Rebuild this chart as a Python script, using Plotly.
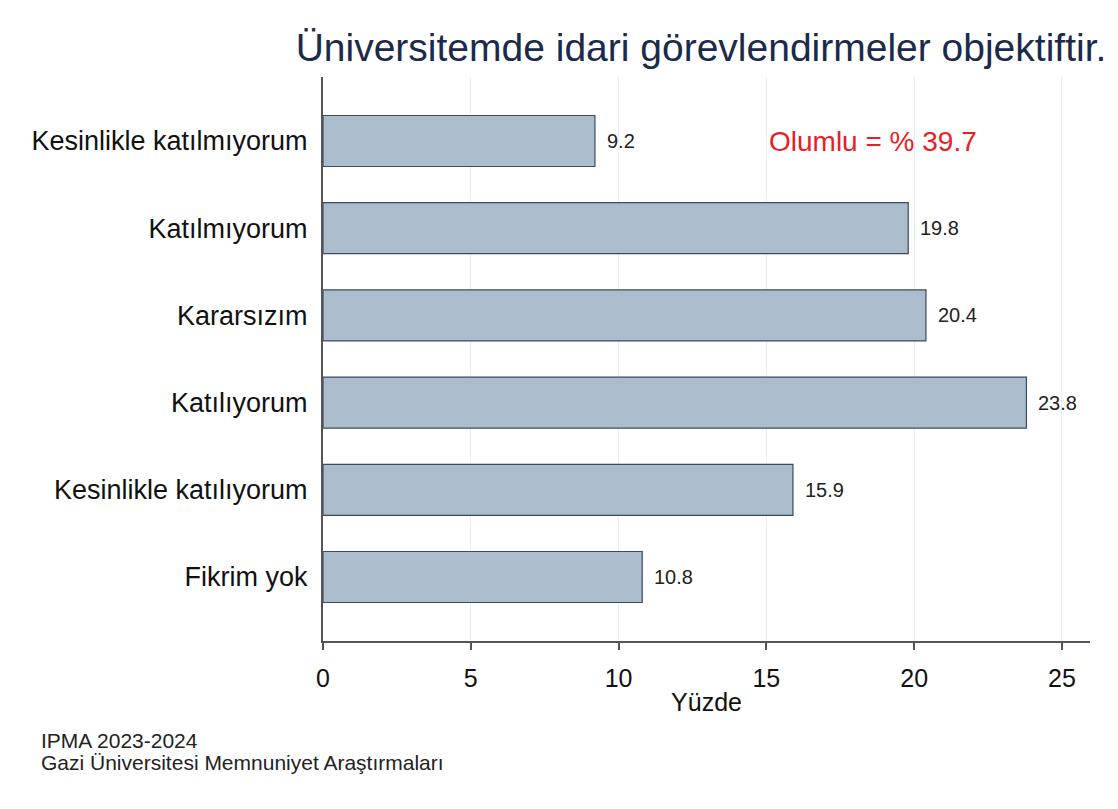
import plotly.graph_objects as go

categories = ["Kesinlikle katılmıyorum", "Katılmıyorum", "Kararsızım",
              "Katılıyorum", "Kesinlikle katılıyorum", "Fikrim yok"]
values = [9.2, 19.8, 20.4, 23.8, 15.9, 10.8]
x_ticks = [0, 5, 10, 15, 20, 25]

title_text = "Üniversitemde idari görevlendirmeler objektiftir."
note_text = "Olumlu = % 39.7"
footer_lines = ["IPMA 2023-2024", "Gazi Üniversitesi Memnuniyet Araştırmaları"]

font = "Liberation Sans, Arial, sans-serif"

W, H = 1110, 801
L, R, T, B = 315, 28, 69, 168
PW, PH = W - L - R, H - T - B

ypos = list(range(len(categories)))

fig = go.Figure()
fig.add_trace(go.Bar(
    x=values, y=ypos, orientation="h",
    width=0.585,
    marker=dict(color="#abbccd", line=dict(color="#3b4a5c", width=1.2)),
    hoverinfo="skip",
))

for v, yp in zip(values, ypos):
    fig.add_annotation(text=f"{v:.1f}", xref="x", yref="y", x=v, y=yp,
                       xanchor="left", yanchor="middle", xshift=10, showarrow=False,
                       font=dict(family=font, size=20, color="#222222"))

fig.update_layout(
    width=W, height=H,
    margin=dict(l=L, r=R, t=T, b=B),
    paper_bgcolor="white", plot_bgcolor="white",
    showlegend=False,
    font=dict(family=font, color="#111111"),
    title=dict(text=title_text, x=693 / W, xanchor="center", y=1 - 39 / H, yanchor="middle",
               font=dict(family=font, size=39, color="#1c2a4a")),
    xaxis=dict(range=[0, 25.95], tickvals=x_ticks, ticktext=[str(t) for t in x_ticks],
               showgrid=True, gridcolor="#eaeef2", gridwidth=1,
               showline=True, linecolor="#555555", linewidth=2,
               ticks="outside", ticklen=7, tickwidth=2, tickcolor="#555555",
               tickfont=dict(size=25, color="#111111"), zeroline=False,
               ticklabelstandoff=7,
               title=dict(text="Yüzde", font=dict(size=25, color="#111111"), standoff=2)),
    yaxis=dict(range=[5.734, -0.734], tickvals=ypos, ticktext=categories,
               showgrid=False, showline=True, linecolor="#555555", linewidth=2,
               ticks="", tickfont=dict(size=27, color="#111111"), zeroline=False,
               ticklabelstandoff=8),
    bargap=0.4,
)

fig.add_annotation(text=note_text, xref="x", yref="y", x=18.6, y=0,
                   showarrow=False, xanchor="center", yanchor="middle",
                   font=dict(family=font, size=28, color="#ee1c24"))

for i, line in enumerate(footer_lines):
    fig.add_annotation(text=line, xref="paper", yref="paper",
                       x=(31 - L) / PW, y=-(99 + 22 * i) / PH, xanchor="left", yanchor="middle",
                       align="left", showarrow=False,
                       font=dict(family=font, size=21, color="#222222"))

fig.write_html("out.html")
